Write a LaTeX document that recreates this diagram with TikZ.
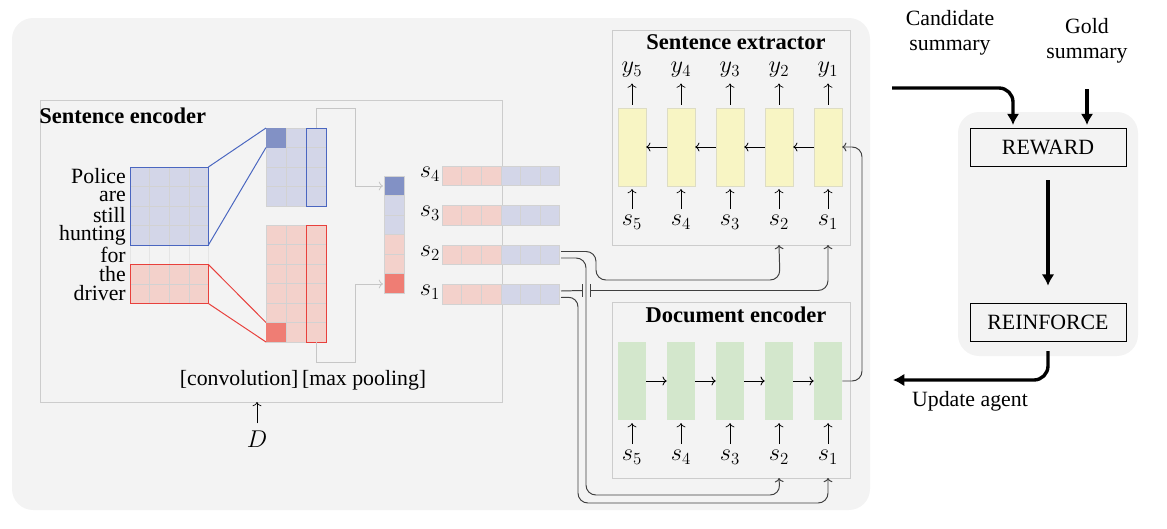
\documentclass[tikz,border=0pt]{standalone}
\usepackage{fontspec}
\setmainfont{Liberation Serif}
\usetikzlibrary{arrows.meta,positioning}
\definecolor{lblue}{HTML}{D3D6E8}
\definecolor{dblue}{HTML}{8291C5}
\definecolor{lred}{HTML}{F3D1CB}
\definecolor{dred}{HTML}{EF7D74}
\definecolor{lyellow}{HTML}{F8F5C4}
\definecolor{lgreen}{HTML}{D3E7CC}
\definecolor{bline}{HTML}{4A66C0}
\definecolor{rline}{HTML}{E8403C}
\definecolor{bgpanel}{HTML}{F3F3F3}

\begin{document}
\begin{tikzpicture}[x=0.025cm, y=-0.025cm, font=\fontsize{15.5}{14}\selectfont,
    cell/.style={draw=gray!35, line width=0.4pt},
    frame/.style={draw=gray!40, line width=0.5pt},
    thin arrow/.style={-{To[length=3pt]}, line width=0.5pt},
    pool/.style={gray!45, line width=0.6pt, -{To[length=3pt]}},
    link/.style={black!75, line width=0.7pt, rounded corners=7},
    mlab/.style={font=\fontsize{17}{17}\selectfont, inner sep=0pt},
    ext cell/.style={rectangle, minimum width=0.7cm, minimum height=1.95cm, fill=lyellow, draw=lyellow!80!black!60, line width=0.3pt},
    doc cell/.style={rectangle, minimum width=0.7cm, minimum height=1.95cm, fill=lgreen},
    title/.style={font=\fontsize{16}{16}\selectfont\bfseries, inner sep=0pt},
    step box/.style={draw, line width=0.6pt, minimum width=3.9cm, minimum height=0.95cm},
    big arrow/.style={line width=2.4pt, -{Latex[length=8pt,width=9pt]}, rounded corners=10}]
    \useasboundingbox (0,0) rectangle (1167,528);

    % Panels
    \fill[bgpanel, rounded corners=15] (12,18) rectangle (870,510);
    \fill[bgpanel, rounded corners=15] (958,112) rectangle (1138,356);

    % Sentence encoder
    \draw[frame] (40,100) rectangle (502,402);
    \node[title, anchor=west] at (39,116) {Sentence encoder};
    \foreach \w [count=\i from 0] in {Police,are,still,hunting,for,the,driver}
        \node[anchor=east, inner sep=0pt] (word\i) at (126,{176.5+\i*19.5}) {\w};
    \foreach \r in {0,...,3} \foreach \c in {0,...,3}
        \draw[cell, fill=lblue] ({130+\c*19.6},{167+\r*19.5}) rectangle ++(19.6,19.5);
    \foreach \c in {0,...,3}
        \draw[cell, draw=gray!20] ({130+\c*19.6},245) rectangle ++(19.6,19.5);
    \foreach \r in {5,6} \foreach \c in {0,...,3}
        \draw[cell, fill=lred] ({130+\c*19.6},{167+\r*19.5}) rectangle ++(19.6,19.5);
    \draw[bline, line width=0.7pt] (130,167) rectangle (208.4,245);
    \draw[rline, line width=0.7pt] (130,264.5) rectangle (208.4,303.5);

    % Feature maps
    \foreach \r in {0,...,3} \foreach \c in {0,...,2}
        \draw[cell, fill=lblue] ({266+\c*20},{128+\r*19.5}) rectangle ++(20,19.5);
    \fill[dblue] (266,128) rectangle ++(20,19.5);
    \draw[bline, line width=0.7pt] (306,128) rectangle (326,206);
    \foreach \r in {0,...,5} \foreach \c in {0,...,2}
        \draw[cell, fill=lred] ({266+\c*20},{225+\r*19.5}) rectangle ++(20,19.5);
    \fill[dred] (266,322.5) rectangle ++(20,19.5);
    \draw[rline, line width=0.7pt] (306,225) rectangle (326,342);
    \draw[bline, line width=0.7pt] (208.4,167) -- (266,128) (208.4,245) -- (266,147.5);
    \draw[rline, line width=0.7pt] (208.4,264.5) -- (266,322.5) (208.4,303.5) -- (266,342);

    % Max pooling
    \foreach \col [count=\i from 0] in {dblue,lblue,lblue,lred,lred,dred}
        \draw[cell, fill=\col] (384.5,{176+\i*19.5}) rectangle ++(19.5,19.5);
    \draw[pool] (316,128) -- (316,108) -- (355,108) -- (355,186) -- (383,186);
    \draw[pool] (316,342) -- (316,362) -- (355,362) -- (355,284) -- (383,284);
    \node at (303,380) {[convolution]\,[max pooling]};
    \node[mlab] (doc) at (257,439) {$D$};
    \draw[thin arrow, shorten <=5pt] (doc) -- (257,402);

    % Sentence vectors
    \foreach \k/\y in {4/166,3/205.5,2/245,1/284.5} {
        \foreach \c in {0,...,2}
            \draw[cell, fill=lred] ({442+\c*19.6},\y) rectangle ++(19.6,19.5);
        \foreach \c in {3,...,5}
            \draw[cell, fill=lblue] ({442+\c*19.6},\y) rectangle ++(19.6,19.5);
        \node[mlab] (slab\k) at (430,{\y+8}) {$s_{\k}$};
        \coordinate (sv\k a) at (561,{\y+6.5});
        \coordinate (sv\k b) at (561,{\y+13});
    }

    % Sentence extractor
    \draw[frame] (612,30) rectangle (850,245);
    \node[title] at (736,42) {Sentence extractor};
    \foreach \k in {1,...,5} {
        \node[ext cell] (e\k) at ({828-(\k-1)*49},147) {};
        \node[mlab] (ylab\k) at ({828-(\k-1)*49},70) {$y_{\k}$};
        \node[mlab] (exs\k) at ({828-(\k-1)*49},222) {$s_{\k}$};
        \draw[thin arrow, shorten <=2pt, shorten >=4pt] (e\k.north) -- (ylab\k);
        \draw[thin arrow, shorten <=4pt, shorten >=2pt] (exs\k) -- (e\k.south);
        \coordinate (exin\k) at ({828-(\k-1)*49},245);
    }
    \foreach \k [evaluate=\k as \j using int(\k+1)] in {1,...,4}
        \draw[thin arrow, line width=0.6pt] (e\k.west) -- (e\j.east);

    % Document encoder
    \draw[frame] (612,302) rectangle (850,478);
    \node[title] at (736,315) {Document encoder};
    \foreach \k in {1,...,5} {
        \node[doc cell] (d\k) at ({828-(\k-1)*49},381) {};
        \node[mlab] (dcs\k) at ({828-(\k-1)*49},457) {$s_{\k}$};
        \draw[thin arrow, shorten <=4pt, shorten >=2pt] (dcs\k) -- (d\k.south);
        \coordinate (dcin\k) at ({828-(\k-1)*49},478);
    }
    \foreach \k [evaluate=\k as \j using int(\k+1)] in {1,...,4}
        \draw[thin arrow, line width=0.6pt] (d\j.east) -- (d\k.west);
    \draw[link, -{To[length=3pt]}] (d1.east) -- (862,381) -- (862,147) -- (e1.east);

    % Links from sentence vectors
    \draw[link, -{To[length=3pt]}] (sv2a) -- (596,251.5) -- (596,280) -- (780,280) -- (exin2);
    \draw[link, -{To[length=3pt]}] (sv2b) -- (586,258) -- (586,495) -- (780,495) -- (dcin2);
    \draw[link] (sv1a) -- (582,290.5);
    \draw[link, -{To[length=3pt]}] (590,290.5) -- (828,290.5) -- (exin1);
    \draw[black!75, line width=0.7pt] (582,284) -- (582,297) (590,284) -- (590,297);
    \draw[link, -{To[length=3pt]}] (sv1b) -- (578,297) -- (578,503) -- (828,503) -- (dcin1);

    % Reward loop
    \node[align=center] (cand) at (950,33) {Candidate\\[4pt]summary};
    \node[align=center] (gold) at (1087,41) {Gold\\[4pt]summary};
    \node[step box] (rew) at (1048,147) {REWARD};
    \node[step box] (rf) at (1048,322) {REINFORCE};
    \coordinate (candstart) at (892,88);
    \coordinate (agent) at (893,380);
    \node (upd) at (970,401) {Update agent};
    \draw[big arrow] (candstart) -- (1013,88) -- (1013,125);
    \draw[big arrow] (1087,89) -- (1087,125);
    \draw[big arrow, shorten <=10pt, shorten >=12pt] (rew.south) -- (rf.north);
    \draw[big arrow] (1048,351) -- (1048,380) -- (agent);
\end{tikzpicture}
\end{document}
